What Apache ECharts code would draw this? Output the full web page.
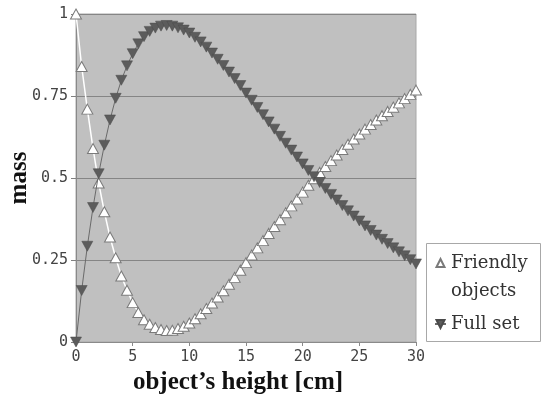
<!DOCTYPE html>
<html>
<head>
<meta charset="utf-8">
<script src="https://cdn.jsdelivr.net/npm/echarts@6/dist/echarts.min.js"></script>
<style>
  html, body { margin: 0; padding: 0; background: #fff; }
  #chart { width: 543px; height: 409px; }
</style>
</head>
<body>
<div id="chart"></div>
<script>
// object's height [cm], one point every half centimetre
var heights = [0, 0.5, 1, 1.5, 2, 2.5, 3, 3.5, 4, 4.5, 5, 5.5, 6, 6.5, 7, 7.5, 8, 8.5, 9, 9.5,
  10, 10.5, 11, 11.5, 12, 12.5, 13, 13.5, 14, 14.5, 15, 15.5, 16, 16.5, 17, 17.5, 18, 18.5, 19, 19.5,
  20, 20.5, 21, 21.5, 22, 22.5, 23, 23.5, 24, 24.5, 25, 25.5, 26, 26.5, 27, 27.5, 28, 28.5, 29, 29.5, 30];

// mass
var friendlyObjects = [1.0, 0.84, 0.71, 0.59, 0.485, 0.397, 0.32, 0.257, 0.201, 0.158,
  0.12, 0.09, 0.068, 0.054, 0.044, 0.038, 0.035, 0.036, 0.041, 0.048,
  0.058, 0.071, 0.086, 0.102, 0.119, 0.137, 0.156, 0.176, 0.197, 0.219,
  0.242, 0.265, 0.287, 0.309, 0.331, 0.352, 0.373, 0.394, 0.415, 0.436,
  0.457, 0.478, 0.498, 0.517, 0.535, 0.553, 0.570, 0.587, 0.603, 0.619,
  0.634, 0.649, 0.663, 0.677, 0.690, 0.703, 0.716, 0.729, 0.742, 0.755, 0.768];

var fullSet = [0, 0.157, 0.292, 0.41, 0.513, 0.60, 0.677, 0.743, 0.798, 0.842,
  0.879, 0.909, 0.931, 0.947, 0.957, 0.963, 0.965, 0.963, 0.958, 0.951,
  0.942, 0.929, 0.915, 0.899, 0.881, 0.862, 0.843, 0.823, 0.803, 0.782,
  0.759, 0.737, 0.715, 0.693, 0.671, 0.649, 0.627, 0.606, 0.585, 0.564,
  0.543, 0.523, 0.504, 0.486, 0.468, 0.45, 0.433, 0.416, 0.4, 0.384,
  0.369, 0.354, 0.34, 0.326, 0.313, 0.3, 0.287, 0.275, 0.263, 0.251, 0.238];

// legend text: first line next to the marker, the rest wrapped below it
var legendNames = ["Friendly objects", "Full set"];
var legendLines = { "Friendly objects": ["Friendly", "objects"], "Full set": ["Full set"] };

function pairs(ys) {
  return heights.map(function (h, i) { return [h, ys[i]]; });
}

var myChart = echarts.init(document.getElementById("chart"));

var tickFont = { fontFamily: "DejaVu Sans Mono", fontSize: 15, color: "#444" };
var titleFont = { fontFamily: "Liberation Serif", fontSize: 25, fontWeight: "bold", color: "#111" };
var legendFamily = "DejaVu Serif", legendSize = 18, legendColor = "#333";
var downTriangle = "path://M0,0L10,0L5,9Z";

var option = {
  animation: false,
  backgroundColor: "#fff",
  grid: {
    left: 76, right: 127, top: 14, bottom: 67,
    outerBoundsMode: "none",
    show: true,
    backgroundColor: "#c0c0c0",
    borderColor: "#a8a8a8",
    borderWidth: 1
  },
  xAxis: {
    type: "value",
    min: 0, max: 30, interval: 5,
    name: "object\u2019s height [cm]",
    nameLocation: "middle",
    nameGap: 28,
    nameMoveOverlap: false,
    nameTextStyle: Object.assign({ padding: [0, 16, 0, 0] }, titleFont),
    axisLine: { show: true, lineStyle: { color: "#8a8a8a", width: 1 } },
    axisTick: { show: true, length: 4, lineStyle: { color: "#8a8a8a" } },
    axisLabel: Object.assign({ margin: 8 }, tickFont),
    splitLine: { show: false }
  },
  yAxis: {
    type: "value",
    min: 0, max: 1, interval: 0.25,
    name: "mass",
    nameLocation: "middle",
    nameRotate: 90,
    nameGap: 44,
    nameMoveOverlap: false,
    nameTextStyle: titleFont,
    axisLine: { show: true, lineStyle: { color: "#8a8a8a", width: 1 } },
    axisTick: { show: true, length: 5, lineStyle: { color: "#808080" } },
    axisLabel: Object.assign({ margin: 8 }, tickFont),
    splitLine: { show: true, lineStyle: { color: "#858585", width: 1 } }
  },
  graphic: [
    {
      type: "rect",
      z: 1,
      shape: { x: 426.5, y: 243.5, width: 114, height: 98 },
      style: { fill: "#fff", stroke: "#a8a8a8", lineWidth: 1 }
    },
    {
      type: "text",
      z: 6,
      left: 451, top: 282,
      style: {
        text: legendLines["Friendly objects"][1],
        fill: legendColor,
        font: legendSize + "px '" + legendFamily + "'"
      }
    }
  ],
  legend: {
    orient: "vertical",
    left: 434, top: 249,
    padding: 0,
    itemGap: 33,
    itemWidth: 11, itemHeight: 10,
    z: 5,
    textStyle: { fontFamily: legendFamily, fontSize: legendSize, color: legendColor, lineHeight: 28 },
    data: legendNames,
    formatter: function (name) { return legendLines[name][0]; }
  },
  series: [
    {
      name: legendNames[0],
      type: "line",
      data: pairs(friendlyObjects),
      symbol: "triangle",
      symbolSize: [11, 10],
      clip: false,
      z: 3,
      itemStyle: { color: "#fff", borderColor: "#7a7a7a", borderWidth: 1 },
      lineStyle: { color: "#fff", width: 1.5 }
    },
    {
      name: legendNames[1],
      type: "line",
      data: pairs(fullSet),
      symbol: downTriangle,
      symbolSize: [11, 10],
      clip: false,
      z: 4,
      itemStyle: { color: "#5c5c5c", borderColor: "#4a4a4a", borderWidth: 0.5 },
      lineStyle: { color: "#6a6a6a", width: 1 }
    }
  ]
};

myChart.setOption(option);
</script>
</body>
</html>
